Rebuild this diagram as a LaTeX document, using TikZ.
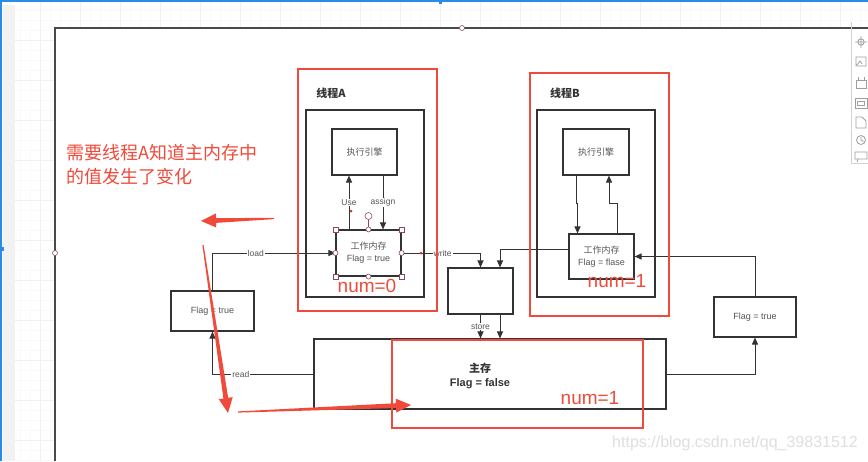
\documentclass[tikz,border=0pt]{standalone}
\usepackage{fontspec}
\setmainfont{Liberation Sans}
\newfontfamily\cjk{Noto Sans CJK SC}
\usetikzlibrary{arrows.meta,calc}
\definecolor{ln}{HTML}{333333}
\definecolor{frm}{HTML}{4A4A4A}
\definecolor{rd}{HTML}{F04A3A}
\definecolor{lbl}{HTML}{555555}
\definecolor{hnd}{HTML}{8B4A5C}
\definecolor{blu}{HTML}{2A8CE8}
\newcommand{\redarrow}[2]{%
  \coordinate (H) at ($(#2)!15pt!(#1)$);
  \fill[rd] ($(#1)!0.6pt!90:(#2)$) -- ($(H)!2.4pt!-90:(#1)$) -- ($(H)!7pt!-90:(#1)$) -- (#2)
    -- ($(H)!7pt!90:(#1)$) -- ($(H)!2.4pt!90:(#1)$) -- ($(#1)!0.6pt!-90:(#2)$) -- cycle;}
\tikzset{
  box/.style={draw=ln, line width=1.1pt, fill=white, inner sep=0pt, align=center,
    text=lbl, font=\fontsize{9}{12}\selectfont},
  conn/.style={draw=ln, line width=1pt, -{Triangle[length=7pt,width=6pt]}},
  lab/.style={fill=white, inner sep=1pt, text=lbl, font=\fontsize{8.5}{9}\selectfont},
  redbox/.style={draw=rd, line width=1.5pt},
  numtxt/.style={text=rd, font=\fontsize{19}{19}\selectfont, inner sep=0pt},
  hsq/.style={draw=hnd, fill=white, line width=0.6pt, minimum size=5pt, inner sep=0pt},
  hci/.style={draw=hnd, fill=white, line width=0.6pt, circle, minimum size=5pt, inner sep=0pt},
  icon/.style={draw=gray!75, line width=0.8pt},
}
\begin{document}
\begin{tikzpicture}[x=1pt,y=-1pt]
\useasboundingbox (0,0) rectangle (868,461);
\fill[white] (0,0) rectangle (868,461);
% canvas grid outside the frame
\begin{scope}
\clip (0,0) -| (868,28) -| (55,461) -| (0,0) -- cycle;
\draw[gray!5, line width=0.5pt] (0,-3) grid[step=10pt] (868,461);
\draw[gray!11, line width=0.6pt] (15,-8) grid[step=40pt] (868,461);
\end{scope}
\fill[gray!10] (2.5,5) rectangle (15,461);
\fill[blu] (0,0) rectangle (868,1.5);
\fill[blu] (0,0) rectangle (1.6,461);
\fill[blu] (438.5,0) rectangle (442,4);
\fill[blu] (0,247) rectangle (3.5,251);
% outer frame
\draw[frm, line width=1.4pt] (55,461) -- (55,28) -- (868,28);
\node[hci] (hf1) at (462,28) {};
\node[hci] (hf2) at (55,253) {};

% thread A
\draw[ln, line width=1.1pt] (306,110) rectangle (424,297);
\node[font=\cjk\bfseries\fontsize{11}{11}\selectfont, text=ln] (tA) at (331,93) {线程A};
\node[box, minimum width=65pt, minimum height=46pt] (engA) at (364.5,152) {\cjk 执行引擎};
\node[box, minimum width=65pt, minimum height=46pt] (wmA) at (368.5,253) {{\cjk 工作内存}\\Flag = true};
% thread B
\draw[ln, line width=1.1pt] (537,110) rectangle (655,297);
\node[font=\cjk\bfseries\fontsize{11}{11}\selectfont, text=ln] (tB) at (565,93) {线程B};
\node[box, minimum width=66pt, minimum height=46pt] (engB) at (596,152) {\cjk 执行引擎};
\node[box, minimum width=65pt, minimum height=45pt] (wmB) at (601.5,256.5) {{\cjk 工作内存}\\Flag = flase};
% other boxes
\node[box, minimum width=83pt, minimum height=40pt] (flagL) at (212.5,311) {Flag = true};
\node[box, minimum width=82pt, minimum height=40pt] (flagR) at (755,317) {Flag = true};
\node[box, minimum width=65pt, minimum height=46pt] (mid) at (480.5,291) {};
\node[box, minimum width=352pt, minimum height=70pt] (main) at (490,374) {};
\node[align=center, text=ln, font=\bfseries\fontsize{11}{14}\selectfont] (mainlbl) at (480,375.5) {{\cjk 主存}\\Flag = false};

% connectors
\draw[conn] (flagL.north) |- (wmA.west) node[lab, pos=0.676] {load};
\draw[conn] (main.west) -| (flagL.south) node[lab, pos=0.36] {read};
\draw[conn] (wmA.east) -| (mid.north) node[lab, pos=0.26] {write};
\draw[conn] ($(wmB.west)+(0,-7.5)$) -| ($(mid.north)+(19.5,0)$);
\draw[conn] (mid.south) -- (mid.south |- main.north) node[lab, midway] {store};
\draw[conn] ($(mid.south)+(19.5,0)$) -- ($(mid.south |- main.north)+(19.5,0)$);
\draw[conn] (main.east) -| (flagR.south);
\draw[conn] (flagR.north) |- (wmB.east);
\draw[conn] ($(wmA.north)+(-19.5,0)$) -- ($(engA.south)+(-15.5,0)$) node[lab, pos=0.5] {Use};
\draw[conn] ($(engA.south)+(18.5,0)$) -- ($(wmA.north)+(14.5,0)$) node[lab, pos=0.5] {assign};
\draw[conn] ($(engB.south)+(-20,0)$) -- ++(0,28) -| ($(wmB.north)+(-24,0)$);
\draw[conn] ($(wmB.north)+(15.5,0)$) -- ++(0,-30) -| ($(engB.south)+(13,0)$);

% selection handles on wmA
\draw[hnd, line width=0.6pt] (wmA.north) -- (368.5,219.5);
\node[hci, minimum size=7pt] (rot) at (368.5,216) {};
\foreach \a/\n in {north west/a1, north east/a2, south west/a3, south east/a4}
  \node[hsq] (hs\n) at (wmA.\a) {};
\foreach \a/\n in {north/b1, south/b2, west/b3, east/b4}
  \node[hci] (hc\n) at (wmA.\a) {};
\fill[rd!80!black] (351,211) circle (1.5pt);
\fill[rd!80!black] (421,253) circle (1.5pt);

% red annotations
\draw[redbox] (298,69) rectangle (437,311);
\draw[redbox] (530,73) rectangle (669,316);
\draw[redbox] (392,340) rectangle (643,428);
\node[numtxt] (n0) at (367,286) {num=0};
\node[numtxt] (n1) at (617,281) {num=1};
\node[numtxt] (n2) at (590,398) {num=1};
\node[anchor=west, inner sep=0pt, text=rd, font=\cjk\fontsize{18}{18}\selectfont] (note1) at (66,153) {需要线程A知道主内存中};
\node[anchor=west, inner sep=0pt, text=rd, font=\cjk\fontsize{18}{18}\selectfont] (note2) at (66,177) {的值发生了变化};
\coordinate (r1t) at (274,218.5);
\coordinate (r1h) at (201,221);
\coordinate (r2t) at (203,245);
\coordinate (r2h) at (228,413);
\coordinate (r3t) at (238,412);
\coordinate (r3h) at (411,405);
\redarrow{r1t}{r1h}
\redarrow{r2t}{r2h}
\redarrow{r3t}{r3h}

% watermark
\node[text=gray!25, font=\fontsize{16}{16}\selectfont, inner sep=0pt] (wmark) at (735,443) {https://blog.csdn.net/qq\_39831512};

% right toolbar
\draw[gray!35, fill=white, line width=0.6pt] (851,22) -- (851,163) -- (868,163);
\draw[icon] (861,42) circle (3.2pt) (855,42) -- (867,42) (861,36) -- (861,48);
\draw[icon] (856,57) rectangle (866,66) (857,65) -- (860,61) -- (862,64);
\draw[icon] (856,80) rectangle (866,88) (858,80) -- (858,77) (864,80) -- (864,77);
\draw[icon] (855,98) rectangle (867,108) (857.5,101) rectangle (864.5,105);
\draw[icon] (856,117) -- (856,128) -- (866,128) -- (866,121) -- (862,117) -- cycle;
\draw[icon] (861,140) circle (4.5pt) (861,140) -- (861,137) (861,140) -- (863.5,141.5);
\draw[icon] (855,152) rectangle (867,159) (858,159) -- (857,162);
\end{tikzpicture}
\end{document}
